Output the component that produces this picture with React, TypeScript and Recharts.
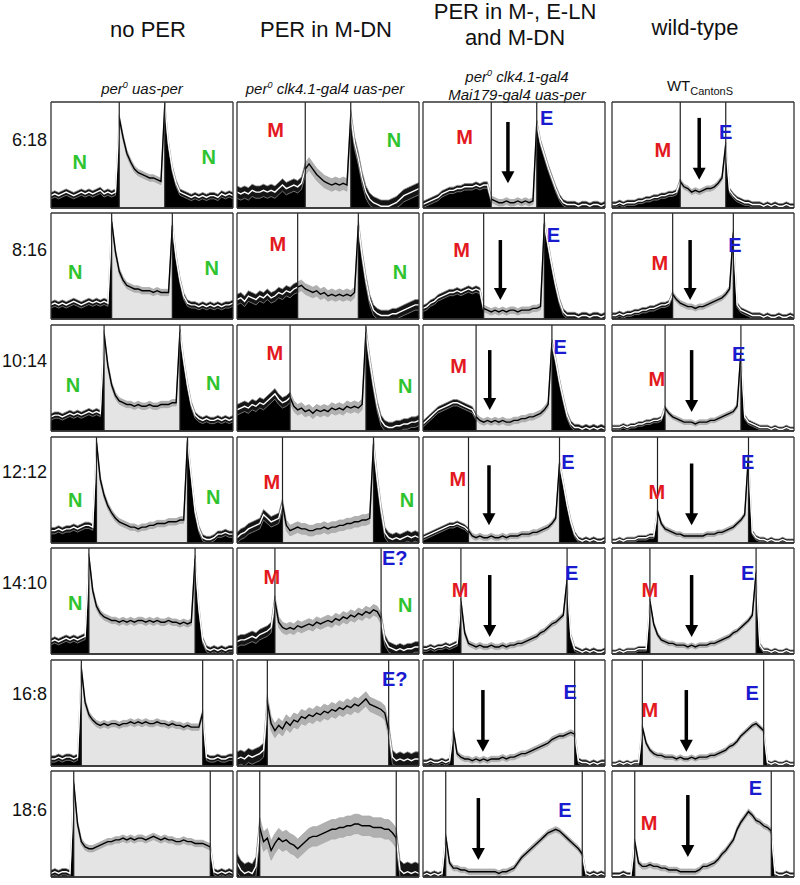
import { ComposedChart, Area, Line, XAxis, YAxis, ReferenceLine, ReferenceDot } from "recharts"

// ------------------------------------------------------------------
// Data: activity in 30-min bins, ZT hour 0 .. 24 (49 points per panel)
// ------------------------------------------------------------------

const hours = [
    0, 0.5, 1, 1.5, 2, 2.5, 3, 3.5, 4, 4.5, 5, 5.5, 6, 6.5, 7, 7.5, 8, 8.5, 9, 9.5, 10, 10.5, 11, 11.5,
    12, 12.5, 13, 13.5, 14, 14.5, 15, 15.5, 16, 16.5, 17, 17.5, 18, 18.5, 19, 19.5, 20, 20.5, 21, 21.5,
    22, 22.5, 23, 23.5, 24,
]

const photoperiods = ["6:18", "8:16", "10:14", "12:12", "14:10", "16:8", "18:6"]
const lightsOn = [9, 8, 7, 6, 5, 4, 3]
const lightsOff = [15, 16, 17, 18, 19, 20, 21]
const xTicks = [0, 3, 6, 9, 12, 15, 18, 21, 24]
const yTicks = [10, 20, 30, 40, 50]

// no PER: per0 uas-per
const noPer618 = [
    7, 8, 7, 8, 9, 8, 7, 8, 9, 8, 9, 8,
    9, 10, 8, 9, 8, 9, 51, 40, 31, 26, 22, 20,
    19, 18, 17, 17, 16, 15, 58, 36, 22, 14, 9, 8,
    7, 6, 7, 6, 7, 6, 7, 7, 6, 8, 7, 8, 7,
]
const noPer816 = [
    8, 9, 8, 9, 8, 9, 10, 9, 8, 9, 10, 9,
    10, 9, 10, 9, 55, 38, 27, 22, 19, 18, 17, 17,
    16, 16, 16, 15, 16, 15, 15, 15, 53, 35, 22, 13,
    9, 8, 8, 7, 8, 7, 8, 7, 8, 7, 8, 8, 9,
]
const noPer1014 = [
    8, 9, 9, 8, 9, 10, 9, 10, 9, 10, 11, 10,
    11, 10, 55, 37, 26, 20, 17, 16, 15, 15, 14, 15,
    14, 14, 15, 14, 14, 15, 15, 15, 16, 16, 56, 40,
    26, 15, 9, 7, 6, 7, 6, 6, 7, 6, 7, 6, 7,
]
const noPer1212 = [
    7, 7, 8, 7, 8, 8, 9, 8, 9, 10, 10, 9,
    57, 36, 27, 21, 17, 14, 12, 11, 10, 9, 9, 8,
    9, 9, 10, 10, 11, 11, 11, 12, 12, 12, 13, 13,
    58, 38, 18, 8, 3, 2, 2, 3, 5, 5, 6, 5, 5,
]
const noPer1410 = [
    7, 8, 7, 8, 9, 8, 9, 8, 9, 10, 55, 36,
    27, 23, 21, 20, 19, 19, 18, 19, 18, 19, 18, 19,
    19, 18, 19, 18, 19, 18, 18, 19, 18, 18, 17, 18,
    17, 18, 54, 26, 8, 3, 2, 3, 2, 3, 2, 3, 3,
]
const noPer168 = [
    4, 4, 5, 4, 5, 5, 4, 5, 55, 36, 29, 26,
    24, 23, 24, 23, 24, 24, 23, 24, 24, 25, 24, 25,
    24, 25, 24, 24, 25, 24, 24, 23, 24, 23, 23, 22,
    23, 22, 22, 22, 30, 5, 4, 4, 5, 4, 4, 5, 5,
]
const noPer186 = [
    2, 3, 2, 3, 3, 2, 53, 30, 20, 17, 16, 16,
    17, 18, 19, 20, 20, 21, 21, 22, 21, 22, 21, 22,
    22, 21, 22, 23, 22, 21, 22, 21, 21, 20, 20, 21,
    20, 20, 19, 19, 19, 18, 17, 3, 2, 3, 2, 3, 2,
]

// PER in M-DN: per0 clk4.1-gal4 uas-per
const mdn618 = [
    9, 8, 9, 8, 10, 9, 9, 10, 9, 10, 9, 11,
    13, 11, 12, 13, 12, 14, 22, 25, 22, 19, 17, 15,
    14, 13, 14, 13, 14, 13, 52, 37, 28, 17, 9, 5,
    3, 2, 1, 1, 1, 2, 3, 5, 7, 8, 9, 10, 11,
]
const mdn816 = [
    11, 12, 10, 13, 12, 11, 13, 12, 14, 12, 13, 15,
    14, 16, 15, 17, 18, 19, 17, 16, 15, 16, 14, 15,
    13, 14, 13, 14, 13, 14, 13, 15, 53, 36, 22, 11,
    5, 3, 2, 2, 2, 3, 3, 4, 5, 6, 7, 8, 8,
]
const mdn1014 = [
    12, 13, 14, 13, 15, 14, 16, 15, 17, 19, 21, 18,
    16, 17, 19, 14, 12, 13, 11, 12, 10, 12, 11, 12,
    11, 13, 12, 13, 12, 14, 13, 14, 13, 15, 56, 40,
    26, 14, 6, 3, 2, 2, 3, 3, 4, 4, 5, 5, 6,
]
const mdn1212 = [
    3, 5, 6, 8, 9, 10, 11, 16, 14, 12, 13, 14,
    22, 10, 7, 8, 9, 8, 8, 7, 7, 8, 8, 9,
    8, 9, 9, 10, 10, 11, 11, 12, 12, 13, 13, 14,
    56, 36, 19, 6, 3, 2, 3, 2, 3, 4, 3, 4, 3,
]
const mdn1410 = [
    7, 8, 8, 9, 10, 9, 11, 12, 13, 15, 30, 18,
    15, 14, 15, 14, 16, 15, 16, 17, 16, 18, 17, 18,
    19, 18, 20, 19, 21, 20, 22, 21, 23, 22, 24, 23,
    25, 24, 20, 8, 4, 3, 2, 3, 2, 3, 3, 4, 4,
]
const mdn168 = [
    4, 5, 4, 6, 5, 6, 7, 9, 36, 24, 20, 23,
    21, 25, 23, 26, 25, 28, 27, 29, 28, 30, 29, 31,
    30, 32, 31, 33, 32, 34, 33, 35, 34, 36, 38, 35,
    34, 33, 32, 30, 20, 5, 3, 4, 3, 4, 3, 4, 4,
]
const mdn186 = [
    8, 4, 2, 3, 2, 6, 28, 20, 22, 15, 19, 22,
    20, 21, 19, 18, 16, 18, 20, 22, 23, 23, 24, 25,
    26, 27, 27, 28, 28, 29, 29, 30, 30, 29, 29, 29,
    28, 28, 28, 27, 27, 25, 22, 4, 2, 3, 2, 3, 2,
]

// PER in M-, E-LN and M-DN: per0 clk4.1-gal4 Mai179-gal4 uas-per
const mel618 = [
    2, 3, 4, 5, 6, 8, 9, 10, 10, 11, 11, 12,
    12, 12, 13, 12, 13, 13, 5, 4, 3, 3, 4, 3,
    3, 4, 3, 4, 3, 4, 48, 37, 30, 23, 17, 11,
    6, 3, 2, 2, 2, 1, 2, 2, 1, 2, 2, 1, 2,
]
const mel816 = [
    6, 7, 9, 10, 12, 13, 14, 15, 15, 16, 15, 16,
    17, 16, 17, 16, 6, 5, 4, 5, 4, 5, 4, 5,
    5, 4, 5, 5, 5, 6, 6, 7, 54, 42, 30, 19,
    10, 4, 2, 2, 2, 1, 2, 2, 1, 2, 2, 1, 2,
]
const mel1014 = [
    4, 6, 8, 10, 12, 13, 14, 15, 16, 16, 15, 14,
    13, 12, 8, 6, 5, 6, 5, 6, 5, 6, 5, 5,
    6, 6, 7, 7, 8, 8, 9, 10, 12, 15, 50, 40,
    28, 18, 9, 4, 2, 2, 1, 2, 1, 2, 1, 2, 1,
]
const mel1212 = [
    3, 4, 5, 6, 7, 8, 9, 10, 10, 11, 10, 9,
    7, 4, 3, 4, 3, 3, 4, 3, 3, 4, 3, 4,
    4, 4, 5, 5, 5, 6, 6, 7, 8, 9, 11, 14,
    45, 34, 22, 12, 5, 2, 1, 2, 1, 2, 1, 1, 2,
]
const mel1410 = [
    3, 3, 4, 3, 4, 4, 5, 4, 5, 6, 30, 12,
    6, 5, 4, 5, 4, 4, 5, 4, 4, 5, 4, 5,
    5, 6, 6, 7, 8, 9, 10, 12, 13, 15, 17, 18,
    20, 22, 42, 10, 3, 2, 1, 2, 1, 2, 1, 1, 2,
]
const mel168 = [
    2, 2, 3, 2, 2, 3, 2, 3, 20, 7, 5, 4,
    4, 3, 4, 3, 4, 3, 4, 4, 4, 5, 4, 5,
    5, 6, 7, 7, 8, 9, 10, 11, 12, 13, 15, 16,
    17, 17, 18, 19, 18, 3, 2, 2, 1, 2, 1, 2, 2,
]
const mel186 = [
    1, 2, 1, 2, 1, 2, 23, 8, 5, 5, 4, 4,
    3, 3, 3, 3, 3, 3, 3, 3, 2, 3, 3, 4,
    5, 8, 11, 13, 15, 17, 19, 21, 23, 25, 26, 27,
    26, 24, 22, 20, 18, 16, 13, 2, 1, 2, 1, 2, 1,
]

// wild-type: WT CantonS
const wt618 = [
    2, 2, 3, 2, 3, 3, 3, 4, 4, 5, 5, 6,
    6, 7, 7, 8, 8, 9, 15, 12, 11, 9, 10, 9,
    10, 11, 11, 12, 14, 17, 36, 10, 7, 5, 4, 3,
    3, 2, 2, 2, 1, 2, 1, 2, 1, 1, 2, 1, 1,
]
const wt816 = [
    2, 2, 3, 2, 3, 3, 4, 4, 5, 5, 6, 6,
    7, 8, 8, 9, 14, 11, 9, 8, 7, 7, 6, 7,
    7, 8, 9, 10, 11, 12, 14, 17, 49, 8, 5, 4,
    3, 2, 2, 2, 1, 2, 1, 1, 2, 1, 1, 2, 1,
]
const wt1014 = [
    2, 2, 2, 3, 2, 3, 3, 4, 4, 5, 5, 6,
    6, 7, 13, 10, 8, 7, 6, 5, 5, 5, 4, 5,
    5, 5, 6, 6, 7, 8, 9, 10, 11, 14, 45, 8,
    5, 4, 3, 2, 2, 2, 1, 2, 1, 1, 2, 1, 1,
]
const wt1212 = [
    1, 1, 2, 1, 2, 2, 2, 3, 3, 3, 4, 4,
    18, 11, 8, 7, 6, 5, 5, 4, 4, 4, 4, 4,
    4, 5, 5, 5, 6, 6, 7, 8, 9, 11, 13, 16,
    50, 6, 3, 2, 2, 1, 2, 1, 1, 2, 1, 1, 1,
]
const wt1410 = [
    1, 1, 2, 1, 2, 2, 2, 3, 3, 3, 30, 17,
    11, 8, 7, 6, 6, 5, 5, 5, 4, 5, 4, 5,
    5, 5, 6, 6, 7, 8, 9, 10, 12, 13, 15, 17,
    19, 22, 46, 5, 2, 2, 1, 2, 1, 1, 2, 1, 1,
]
const wt168 = [
    1, 1, 2, 1, 2, 1, 2, 2, 22, 13, 9, 7,
    6, 6, 5, 5, 5, 4, 5, 4, 4, 5, 4, 5,
    5, 5, 6, 6, 7, 8, 9, 11, 12, 14, 17, 19,
    21, 23, 24, 22, 20, 2, 1, 2, 1, 1, 2, 1, 1,
]
const wt186 = [
    1, 1, 1, 2, 1, 1, 20, 8, 6, 6, 7, 6,
    6, 5, 5, 4, 4, 4, 3, 3, 3, 3, 3, 4,
    6, 6, 7, 8, 10, 13, 15, 18, 21, 27, 31, 34,
    37, 35, 32, 31, 29, 28, 26, 2, 1, 1, 2, 1, 1,
]

// SEM (half width of the grey band), one per panel
const noPerSem = [1.8, 1.8, 1.8, 1.8, 1.8, 1.8, 1.8]
const mdnSem = [3.5, 3, 3, 3, 3, 4, 5.5]
const melSem = [1.8, 1.8, 1.8, 1.5, 1.5, 1.5, 1.5]
const wtSem = [1.5, 1.5, 1.3, 1.3, 1.3, 1.3, 1.5]

// ------------------------------------------------------------------
// Annotations (data coordinates: hour, activity)
// ------------------------------------------------------------------

type Tag = { text: string; t: number; v: number }
type Arrow = { t: number; top: number; bottom: number }

const noPerTags: Tag[][] = [
    [{ text: "N", t: 3.8, v: 26 }, { text: "N", t: 20.8, v: 28.6 }],
    [{ text: "N", t: 3.2, v: 26.6 }, { text: "N", t: 21.2, v: 28.9 }],
    [{ text: "N", t: 2.9, v: 26 }, { text: "N", t: 21.4, v: 27 }],
    [{ text: "N", t: 3.2, v: 24.3 }, { text: "N", t: 21.4, v: 26 }],
    [{ text: "N", t: 3.2, v: 28.9 }],
    [],
    [],
]
const mdnTags: Tag[][] = [
    [{ text: "M", t: 5.1, v: 44 }, { text: "N", t: 20.7, v: 38.5 }],
    [{ text: "M", t: 5.4, v: 42.5 }, { text: "N", t: 21.5, v: 26.6 }],
    [{ text: "M", t: 5, v: 44 }, { text: "N", t: 22.2, v: 25.5 }],
    [{ text: "M", t: 4.6, v: 34.5 }, { text: "N", t: 22.4, v: 24.3 }],
    [{ text: "M", t: 4.6, v: 43.6 }, { text: "E?", t: 20.8, v: 54.5 }, { text: "N", t: 22.2, v: 27.7 }],
    [{ text: "E?", t: 20.8, v: 49 }],
    [],
]
const melTags: Tag[][] = [
    [{ text: "M", t: 5.5, v: 40 }, { text: "E", t: 16.3, v: 51 }],
    [{ text: "M", t: 5.1, v: 39 }, { text: "E", t: 17.2, v: 47.5 }],
    [{ text: "M", t: 4.7, v: 36.8 }, { text: "E", t: 18.1, v: 47.5 }],
    [{ text: "M", t: 4.6, v: 36 }, { text: "E", t: 19.1, v: 45.8 }],
    [{ text: "M", t: 4.9, v: 36 }, { text: "E", t: 19.6, v: 45.8 }],
    [{ text: "E", t: 19.4, v: 41.9 }],
    [{ text: "E", t: 18.7, v: 38 }],
]
const wtTags: Tag[][] = [
    [{ text: "M", t: 6.7, v: 33 }, { text: "E", t: 15, v: 43 }],
    [{ text: "M", t: 6.3, v: 31.7 }, { text: "E", t: 16.2, v: 41.9 }],
    [{ text: "M", t: 5.9, v: 29.4 }, { text: "E", t: 16.7, v: 43.6 }],
    [{ text: "M", t: 5.9, v: 28.8 }, { text: "E", t: 17.9, v: 45.8 }],
    [{ text: "M", t: 5, v: 36 }, { text: "E", t: 17.9, v: 45.8 }],
    [{ text: "M", t: 5, v: 31.7 }, { text: "E", t: 18.5, v: 41.3 }],
    [{ text: "M", t: 4.9, v: 30.6 }, { text: "E", t: 18.9, v: 50.4 }],
]
const melArrows: Arrow[] = [
    { t: 11.2, top: 48.7, bottom: 14 },
    { t: 10.2, top: 44.7, bottom: 10.8 },
    { t: 8.8, top: 45.8, bottom: 11.9 },
    { t: 8.7, top: 44, bottom: 10 },
    { t: 8.8, top: 44.7, bottom: 9.6 },
    { t: 7.9, top: 43, bottom: 8 },
    { t: 7.3, top: 44.7, bottom: 9.6 },
]
const wtArrows: Arrow[] = [
    { t: 11.5, top: 51, bottom: 16 },
    { t: 10.3, top: 44.7, bottom: 10.8 },
    { t: 10.5, top: 45.8, bottom: 10.8 },
    { t: 10.5, top: 45, bottom: 10 },
    { t: 10.5, top: 44.7, bottom: 9.6 },
    { t: 9.8, top: 43, bottom: 8 },
    { t: 10, top: 46.4, bottom: 11.3 },
]

// ------------------------------------------------------------------
// Layout
// ------------------------------------------------------------------

const colLeft = [51, 237, 423, 612]
const rowTop = [102, 213, 325, 437, 548, 660, 771]
const PW = 182
const PH = 106

const tagColor: Record<string, string> = { N: "#2fc42f", M: "#e3191f", E: "#1a1acf", "E?": "#1a1acf" }
const font = "'Liberation Sans', Arial, sans-serif"

interface PanelProps {
    id: string
    values: number[]
    sem: number
    on: number
    off: number
    tags: Tag[]
    arrow?: Arrow
}

function Panel({ id, values, sem, on, off, tags, arrow }: PanelProps) {
    const data = hours.map((t, i) => ({
        t,
        v: values[i],
        band: [Math.max(0, values[i] - sem), values[i] + sem],
    }))
    const a = `${(on / 24) * 100}%`
    const b = `${(off / 24) * 100}%`
    const stops = (dark: string, light: string) => [
        <stop key="0" offset="0%" stopColor={dark} />,
        <stop key="1" offset={a} stopColor={dark} />,
        <stop key="2" offset={a} stopColor={light} />,
        <stop key="3" offset={b} stopColor={light} />,
        <stop key="4" offset={b} stopColor={dark} />,
        <stop key="5" offset="100%" stopColor={dark} />,
    ]
    return (
        <ComposedChart width={PW + 2} height={PH + 7} data={data} margin={{ top: 1, right: 1, left: 1, bottom: 0 }}>
            <defs>
                <linearGradient id={`fill-${id}`} x1="0" y1="0" x2="1" y2="0">
                    {stops("#000", "#e4e4e4")}
                </linearGradient>
                <linearGradient id={`band-${id}`} x1="0" y1="0" x2="1" y2="0">
                    {stops("#151515", "#b0b0b0")}
                </linearGradient>
                <linearGradient id={`bandEdge-${id}`} x1="0" y1="0" x2="1" y2="0">
                    {stops("#8c8c8c", "#a6a6a6")}
                </linearGradient>
                <linearGradient id={`line-${id}`} x1="0" y1="0" x2="1" y2="0">
                    {stops("#ffffff", "#000")}
                </linearGradient>
            </defs>

            <XAxis
                type="number"
                dataKey="t"
                domain={[0, 24]}
                ticks={xTicks}
                tick={false}
                tickSize={4}
                height={6}
                axisLine={{ stroke: "#333", strokeWidth: 1.3 }}
                tickLine={{ stroke: "#888" }}
                allowDataOverflow
            />
            <YAxis
                type="number"
                domain={[0, 60]}
                ticks={yTicks}
                mirror
                width={0}
                tick={false}
                tickSize={3}
                axisLine={false}
                tickLine={{ stroke: "#555" }}
                allowDataOverflow
            />

            <Area
                dataKey="v"
                type="linear"
                stroke="none"
                fill={`url(#fill-${id})`}
                fillOpacity={1}
                dot={false}
                activeDot={false}
                isAnimationActive={false}
            />
            <Area
                dataKey="band"
                type="linear"
                stroke={`url(#bandEdge-${id})`}
                strokeWidth={0.8}
                fill={`url(#band-${id})`}
                fillOpacity={1}
                dot={false}
                activeDot={false}
                isAnimationActive={false}
            />
            <Line
                dataKey="v"
                type="linear"
                stroke={`url(#line-${id})`}
                strokeWidth={1.4}
                dot={false}
                activeDot={false}
                isAnimationActive={false}
            />

            <ReferenceLine x={on} stroke="#222" strokeWidth={1.2} />
            <ReferenceLine x={off} stroke="#222" strokeWidth={1.2} />
            <ReferenceLine x={0} stroke="#333" strokeWidth={1.3} />
            <ReferenceLine x={24} stroke="#333" strokeWidth={1.3} />
            <ReferenceLine y={60} stroke="#333" strokeWidth={1.3} />
            <ReferenceLine y={0} stroke="#333" strokeWidth={1.3} />

            {arrow && (
                <ReferenceLine
                    segment={[
                        { x: arrow.t, y: arrow.top },
                        { x: arrow.t, y: arrow.bottom + 4 },
                    ]}
                    stroke="#000"
                    strokeWidth={3.5}
                />
            )}
            {arrow && (
                <ReferenceDot
                    x={arrow.t}
                    y={arrow.bottom}
                    r={0}
                    shape={(p: any) => (
                        <polygon
                            points={`${p.cx - 6.5},${p.cy - 12} ${p.cx + 6.5},${p.cy - 12} ${p.cx},${p.cy}`}
                            fill="#000"
                        />
                    )}
                />
            )}
            {tags.map((tag, i) => (
                <ReferenceDot
                    key={i}
                    x={tag.t}
                    y={tag.v}
                    r={0}
                    shape={(p: any) => (
                        <text
                            x={p.cx}
                            y={p.cy}
                            textAnchor="middle"
                            dominantBaseline="central"
                            fontFamily={font}
                            fontWeight="bold"
                            fontSize={20}
                            fill={tagColor[tag.text]}
                        >
                            {tag.text}
                        </text>
                    )}
                />
            ))}
        </ComposedChart>
    )
}

const columns = [
    { key: "noPer", rows: [noPer618, noPer816, noPer1014, noPer1212, noPer1410, noPer168, noPer186], sem: noPerSem, tags: noPerTags, arrows: undefined as Arrow[] | undefined },
    { key: "mdn", rows: [mdn618, mdn816, mdn1014, mdn1212, mdn1410, mdn168, mdn186], sem: mdnSem, tags: mdnTags, arrows: undefined },
    { key: "mel", rows: [mel618, mel816, mel1014, mel1212, mel1410, mel168, mel186], sem: melSem, tags: melTags, arrows: melArrows },
    { key: "wt", rows: [wt618, wt816, wt1014, wt1212, wt1410, wt168, wt186], sem: wtSem, tags: wtTags, arrows: wtArrows },
]

const abs = (left: number, top: number): React.CSSProperties => ({ position: "absolute", left, top })

function Header({ x, top, children }: { x: number; top: number; children: React.ReactNode }) {
    return (
        <div style={{ ...abs(x, top), transform: "translateX(-50%)", fontSize: 22, lineHeight: "26px", textAlign: "center", whiteSpace: "nowrap", color: "#111" }}>
            {children}
        </div>
    )
}

function Sub({ x, top, children }: { x: number; top: number; children: React.ReactNode }) {
    return (
        <div style={{ ...abs(x, top), transform: "translateX(-50%)", fontSize: 15, lineHeight: "18px", fontStyle: "italic", textAlign: "center", whiteSpace: "nowrap", color: "#111" }}>
            {children}
        </div>
    )
}

const rowLabelY = [140, 250, 361, 472, 583, 694, 810]

export default function App() {
    return (
        <div style={{ position: "absolute", left: 0, top: 0, width: 800, height: 885, background: "#fff", fontFamily: font }}>
            <Header x={148} top={17}>no PER</Header>
            <Header x={326} top={17}>PER in M-DN</Header>
            <Header x={515} top={-1}>
                PER in M-, E-LN
                <br />
                and M-DN
            </Header>
            <Header x={695} top={15}>wild-type</Header>

            <Sub x={142} top={76}>
                per<sup style={{ fontSize: 9 }}>0</sup> uas-per
            </Sub>
            <Sub x={325} top={76}>
                per<sup style={{ fontSize: 9 }}>0</sup> clk4.1-gal4 uas-per
            </Sub>
            <Sub x={517} top={64}>
                per<sup style={{ fontSize: 9 }}>0</sup> clk4.1-gal4
                <br />
                Mai179-gal4 uas-per
            </Sub>
            <div style={{ ...abs(700, 77), transform: "translateX(-50%)", fontSize: 15, lineHeight: "18px", whiteSpace: "nowrap", color: "#111" }}>
                WT<sub style={{ fontSize: 11 }}>CantonS</sub>
            </div>

            {photoperiods.map((p, r) => (
                <div
                    key={p}
                    style={{ position: "absolute", right: 800 - 47, top: rowLabelY[r] - 11, fontSize: 18, lineHeight: "22px", color: "#111" }}
                >
                    {p}
                </div>
            ))}

            {columns.map((col, c) =>
                col.rows.map((values, r) => (
                    <div key={`${col.key}-${r}`} style={abs(colLeft[c] - 1, rowTop[r] - 1)}>
                        <Panel
                            id={`${col.key}${r}`}
                            values={values}
                            sem={col.sem[r]}
                            on={lightsOn[r]}
                            off={lightsOff[r]}
                            tags={col.tags[r]}
                            arrow={col.arrows ? col.arrows[r] : undefined}
                        />
                    </div>
                ))
            )}
        </div>
    )
}
